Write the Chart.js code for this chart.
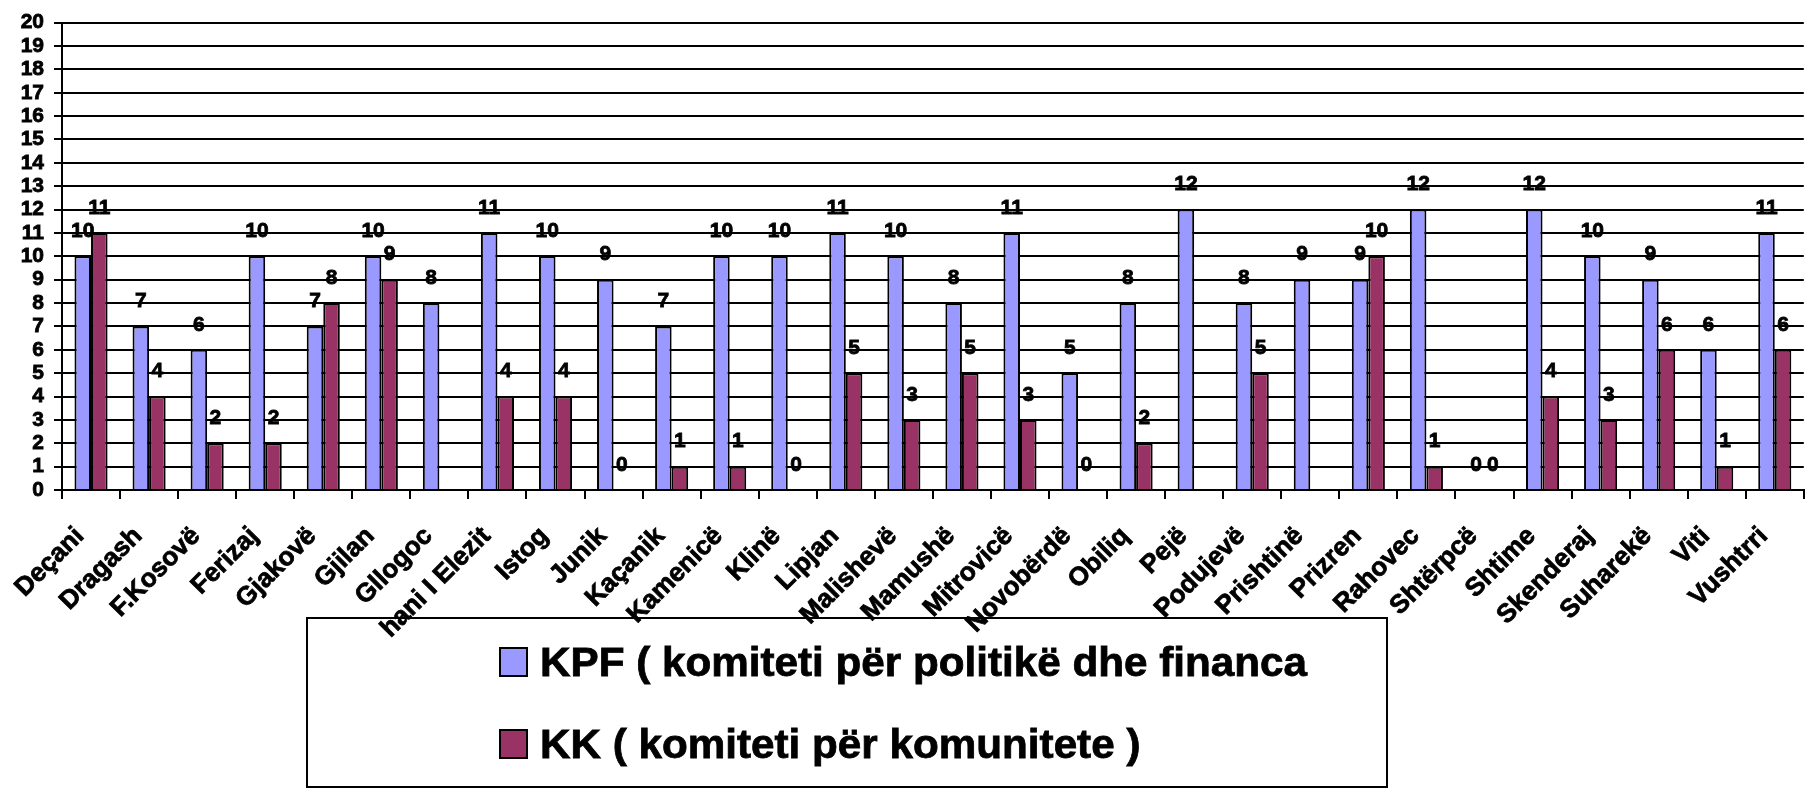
<!DOCTYPE html>
<html>
<head>
<meta charset="utf-8">
<script src="https://cdn.jsdelivr.net/npm/chart.js@4.4.1/dist/chart.umd.min.js"></script>
<style>
  html, body { margin: 0; padding: 0; background: #fff; }
  #wrap { width: 1819px; height: 788px; position: relative; }
</style>
</head>
<body>
<div id="wrap"><canvas id="chart"></canvas></div>
<script>
const municipalities = [
  'Deçani', 'Dragash', 'F.Kosovë', 'Ferizaj', 'Gjakovë', 'Gjilan', 'Gllogoc',
  'hani I Elezit', 'Istog', 'Junik', 'Kaçanik', 'Kamenicë', 'Klinë', 'Lipjan',
  'Malishevë', 'Mamushë', 'Mitrovicë', 'Novobërdë', 'Obiliq', 'Pejë',
  'Podujevë', 'Prishtinë', 'Prizren', 'Rahovec', 'Shtërpcë', 'Shtime',
  'Skenderaj', 'Suharekë', 'Viti', 'Vushtrri'
];
const kpfValues = [10, 7, 6, 10, 7, 10, 8, 11, 10, 9, 7, 10, 10, 11, 10, 8, 11, 5, 8, 12, 8, 9, 9, 12, 0, 12, 10, 9, 6, 11];
const kkValues = [11, 4, 2, 2, 8, 9, null, 4, 4, 0, 1, 1, 0, 5, 3, 5, 3, 0, 2, null, 5, null, 10, 1, 0, 4, 3, 6, 1, 6];
const seriesNames = ['KPF ( komiteti për politikë dhe financa', 'KK ( komiteti për komunitete )'];
const yTicks = [0, 1, 2, 3, 4, 5, 6, 7, 8, 9, 10, 11, 12, 13, 14, 15, 16, 17, 18, 19, 20];

const FONT = '"Liberation Sans", Arial, sans-serif';

// numbers above each bar
const valueLabels = {
  id: 'valueLabels',
  afterDatasetsDraw(chart) {
    const ctx = chart.ctx;
    ctx.save();
    ctx.font = 'bold 21px ' + FONT;
    ctx.fillStyle = '#000';
    ctx.strokeStyle = '#000';
    ctx.lineWidth = 0.8;
    ctx.textAlign = 'center';
    ctx.textBaseline = 'middle';
    chart.data.datasets.forEach((ds, i) => {
      chart.getDatasetMeta(i).data.forEach((bar, j) => {
        const v = ds.data[j];
        if (v === null) return;
        ctx.strokeText(String(v), bar.x, bar.y - 25);
        ctx.fillText(String(v), bar.x, bar.y - 25);
      });
    });
    ctx.restore();
  }
};

// boxed legend under the axis, like the Excel original
const boxLegend = {
  id: 'boxLegend',
  afterDraw(chart) {
    const ctx = chart.ctx;
    ctx.save();
    ctx.lineWidth = 2;
    ctx.strokeStyle = '#000';
    ctx.strokeRect(307, 618, 1080, 169);

    ctx.font = 'bold 41px ' + FONT;
    const sx = 767 / ctx.measureText(seriesNames[0]).width;
    const baselines = [676, 758];
    chart.data.datasets.forEach((ds, i) => {
      const by = baselines[i];
      ctx.fillStyle = ds.backgroundColor;
      ctx.fillRect(500, by - 28, 27, 28);
      ctx.lineWidth = 2;
      ctx.strokeRect(500, by - 28, 27, 28);
      ctx.save();
      ctx.translate(540, by);
      ctx.scale(sx, 1);
      ctx.fillStyle = '#000';
      ctx.lineWidth = 0.8;
      ctx.textAlign = 'left';
      ctx.textBaseline = 'alphabetic';
      ctx.strokeText(ds.label, 0, 0);
      ctx.fillText(ds.label, 0, 0);
      ctx.restore();
    });
    ctx.restore();
  }
};

new Chart(document.getElementById('chart'), {
  type: 'bar',
  data: {
    labels: municipalities,
    datasets: [
      {
        label: seriesNames[0],
        data: kpfValues,
        backgroundColor: '#9999FF',
        borderColor: '#000',
        borderWidth: 2
      },
      {
        label: seriesNames[1],
        data: kkValues,
        backgroundColor: '#993366',
        borderColor: '#000',
        borderWidth: 2
      }
    ]
  },
  options: {
    responsive: true,
    maintainAspectRatio: false,
    animation: false,
    events: [],
    layout: { padding: { top: 17, right: 10, left: 0, bottom: 0 } },
    datasets: { bar: { categoryPercentage: 0.57, barPercentage: 1 } },
    plugins: {
      legend: { display: false },
      tooltip: { enabled: false }
    },
    scales: {
      x: {
        offset: true,
        grid: { offset: true, drawOnChartArea: false, drawTicks: true, tickLength: 9, color: '#000', lineWidth: 2 },
        border: { display: true, color: '#000', width: 2 },
        ticks: {
          color: '#000',
          font: { family: FONT, size: 26, weight: 'bold' },
          textStrokeColor: '#000',
          textStrokeWidth: 0.8,
          minRotation: 45,
          maxRotation: 45,
          autoSkip: false,
          labelOffset: -11,
          padding: 22
        },
        afterFit(scale) { scale.height = 298; }
      },
      y: {
        min: 0,
        max: 20,
        afterBuildTicks(scale) { scale.ticks = yTicks.map(v => ({ value: v })); },
        grid: { color: '#000', lineWidth: 2, drawTicks: true, tickLength: 8 },
        border: { display: true, color: '#000', width: 2 },
        ticks: {
          color: '#000',
          autoSkip: false,
          font: { family: FONT, size: 21, weight: 'bold' },
          textStrokeColor: '#000',
          textStrokeWidth: 0.8,
          padding: 10
        },
        afterFit(scale) { scale.width = 62; }
      }
    }
  },
  plugins: [valueLabels, boxLegend]
});
</script>
</body>
</html>
